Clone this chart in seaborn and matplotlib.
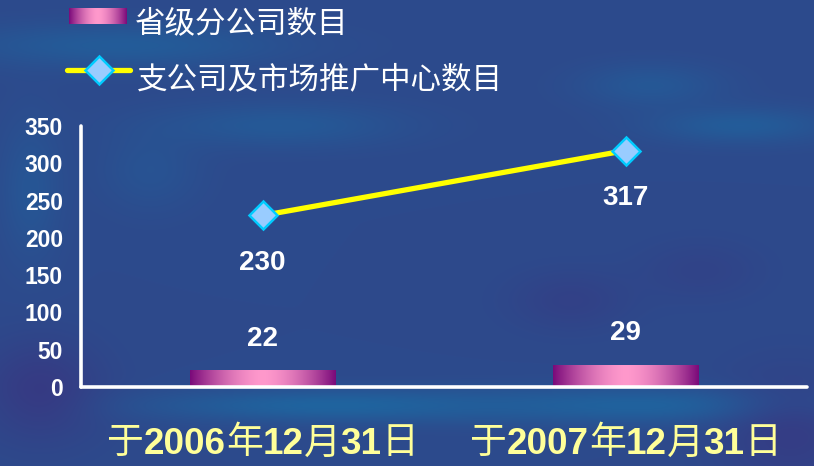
import re
import numpy as np
import pandas as pd
import matplotlib
matplotlib.use("Agg")
import matplotlib.pyplot as plt
import seaborn as sns
from matplotlib.offsetbox import TextArea, HPacker, AnnotationBbox
from matplotlib.lines import Line2D
from matplotlib.colors import to_rgb

# ---------------- data ----------------
categories = ["于2006年12月31日", "于2007年12月31日"]
branch_counts = [22, 29]            # 省级分公司数目 (bars)
office_counts = [230, 317]          # 支公司及市场推广中心数目 (line)
series_names = ["省级分公司数目", "支公司及市场推广中心数目"]
y_ticks = [0, 50, 100, 150, 200, 250, 300, 350]

# ---------------- style ----------------
sns.set_theme(style="white")
plt.rcParams["font.family"] = ["Liberation Sans", "Noto Sans CJK SC", "DejaVu Sans"]

W, H = 814, 466
fig = plt.figure(figsize=(W / 100, H / 100), dpi=100)

# background texture (smooth blue field)
bg = fig.add_axes([0, 0, 1, 1])
bg.axis("off")
bg.set_zorder(-10)
X, Y = np.meshgrid(np.arange(W), np.arange(H))
img = np.ones((H, W, 3)) * np.array(to_rgb("#2d4a8c"))
teal = np.array(to_rgb("#1d68a2"))
purple = np.array(to_rgb("#3a3480"))
blobs = [
    (120, 45, 160, 22, teal, 0.6),
    (280, 125, 120, 22, teal, 0.5),
    (150, 170, 50, 40, teal, 0.3),
    (330, 405, 180, 16, teal, 0.85),
    (650, 405, 200, 18, teal, 0.8),
    (740, 125, 90, 18, teal, 0.6),
    (650, 85, 70, 22, teal, 0.45),
    (30, 190, 30, 70, teal, 0.4),
    (40, 390, 60, 50, purple, 0.7),
    (790, 430, 70, 60, purple, 0.6),
    (570, 300, 60, 30, purple, 0.4),
    (700, 270, 60, 30, purple, 0.3),
]
for cx, cy, sx, sy, col, s in blobs:
    w = s * np.exp(-((X - cx) / sx) ** 2 - ((Y - cy) / sy) ** 2)
    img = img * (1 - w[..., None]) + col * w[..., None]
bg.imshow(img, aspect="auto", extent=(0, 1, 0, 1), transform=bg.transAxes)

# gradient used for bars
gx = np.linspace(-1, 1, 256)
gt = 1 - np.abs(gx) ** 1.6
c_edge = np.array(to_rgb("#7a0a7a"))
c_mid = np.array(to_rgb("#ff99cc"))
grad = (c_edge * (1 - gt[:, None]) + c_mid * gt[:, None])[None, :, :]

# ---------------- main axes ----------------
ax = fig.add_axes([81 / W, 1 - 387 / H, (807 - 81) / W, (387 - 126) / H])
ax.patch.set_alpha(0)

df = pd.DataFrame({"date": categories, "branches": branch_counts, "offices": office_counts})
sns.barplot(data=df, x="date", y="branches", ax=ax, width=0.4, color="#ff99cc", zorder=2)
for p in list(ax.patches):
    x0, w_, h_ = p.get_x(), p.get_width(), p.get_height()
    p.set_visible(False)
    ax.imshow(grad, extent=(x0, x0 + w_, 0, h_), aspect="auto", zorder=2)

sns.lineplot(x=np.arange(len(categories)), y=office_counts, ax=ax, color="#ffff00",
             linewidth=3.8, marker="D", markersize=14, markerfacecolor="#99ccff",
             markeredgecolor="#00ccff", markeredgewidth=1.8, zorder=3)

ax.set_xlim(-0.5, 1.5)
ax.set_ylim(0, 350)
ax.set_yticks(y_ticks)
ax.set_xticks([])
ax.set_xlabel("")
ax.set_ylabel("")
ax.tick_params(axis="y", length=0, pad=13, labelsize=16.5, labelcolor="white")
for lbl in ax.get_yticklabels():
    lbl.set_fontweight("bold")
    lbl.set_family("Liberation Sans")
for s in ["top", "right"]:
    ax.spines[s].set_visible(False)
for s in ["left", "bottom"]:
    ax.spines[s].set_color("white")
    ax.spines[s].set_linewidth(2.6)
    ax.spines[s].set_capstyle("round")
ax.grid(False)

# value labels
for i, v in enumerate(branch_counts):
    ax.annotate(str(v), (i, v), xytext=(0, 23), textcoords="offset points",
                ha="center", va="center", color="white", fontsize=20,
                fontweight="bold", family="Liberation Sans")
for i, v in enumerate(office_counts):
    ax.annotate(str(v), (i, v), xytext=(0, -34), textcoords="offset points",
                ha="center", va="center", color="white", fontsize=20,
                fontweight="bold", family="Liberation Sans")

# category labels (bold digits, regular CJK)
for i, lab in enumerate(categories):
    parts = re.findall(r"\d+|\D+", lab)
    kids = []
    for part in parts:
        if part.isdigit():
            tp = dict(color="#ffff99", fontsize=26.5, fontweight="bold", family="Liberation Sans")
        else:
            tp = dict(color="#ffff99", fontsize=26.5, family="Noto Sans CJK SC")
        kids.append(TextArea(part, textprops=tp))
    pack = HPacker(children=kids, align="baseline", pad=0, sep=0)
    ab = AnnotationBbox(pack, (i, 1 - 443 / H), xycoords=("data", "figure fraction"),
                        frameon=False, box_alignment=(0.5, 0.5), pad=0,
                        annotation_clip=False)
    ax.add_artist(ab)

# ---------------- legend (manual) ----------------
lax = fig.add_axes([69 / W, 1 - 24 / H, 58 / W, 16 / H])
lax.imshow(grad, aspect="auto", extent=(0, 1, 0, 1))
lax.axis("off")
fig.text(135 / W, 1 - 24 / H, series_names[0], color="white", fontsize=22,
         family="Noto Sans CJK SC", ha="left", va="center")
fig.add_artist(Line2D([67 / W, 130 / W], [1 - 70 / H, 1 - 70 / H], transform=fig.transFigure,
                      color="#ffff00", linewidth=3.8, solid_capstyle="round"))
fig.add_artist(Line2D([99 / W], [1 - 70 / H], transform=fig.transFigure, marker="D",
                      markersize=14, markerfacecolor="#99ccff", markeredgecolor="#00ccff",
                      markeredgewidth=1.8, linestyle="none"))
fig.text(137 / W, 1 - 80 / H, series_names[1], color="white", fontsize=22,
         family="Noto Sans CJK SC", ha="left", va="center")

fig.savefig("out.png", dpi=100)
